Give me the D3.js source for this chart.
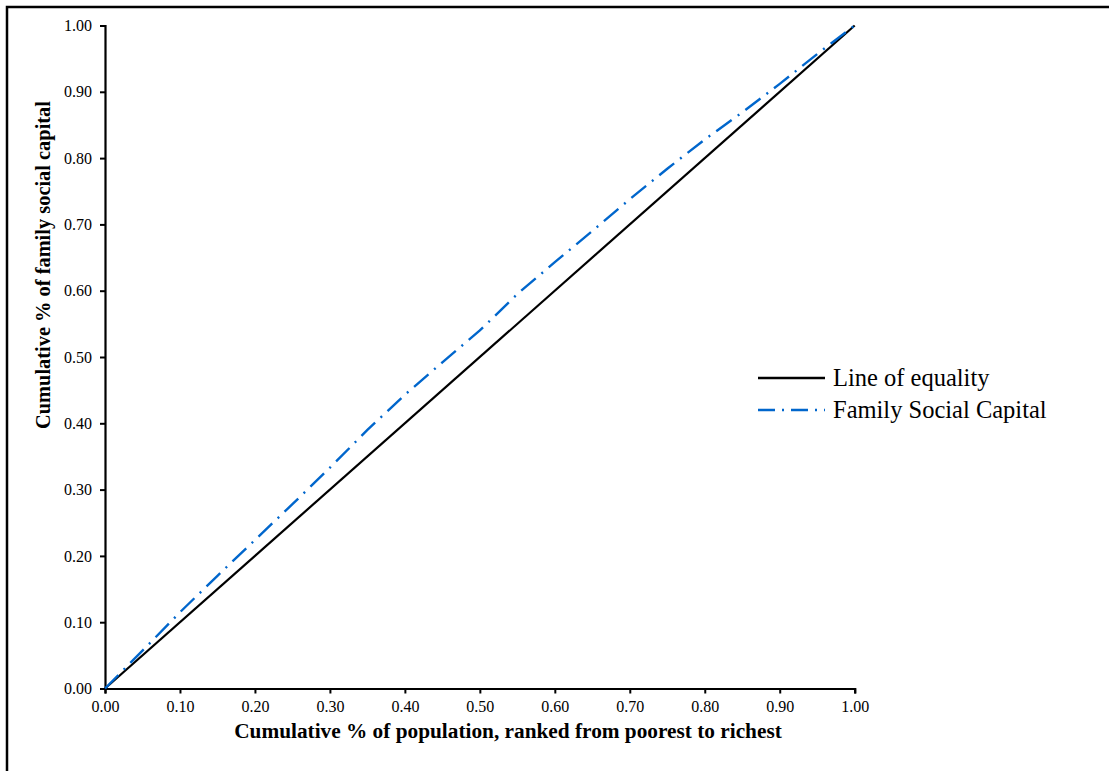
<!DOCTYPE html>
<html>
<head>
<meta charset="utf-8">
<script src="https://cdn.jsdelivr.net/npm/d3@7"></script>
<style>
  html, body { margin: 0; padding: 0; background: #fff; }
  svg { display: block; }
</style>
</head>
<body>
<svg id="chart" width="1109" height="771"></svg>
<script>
// ---- data ----
const popShare = [0, 0.05, 0.10, 0.15, 0.20, 0.25, 0.30, 0.35, 0.40, 0.45, 0.50, 0.55, 0.60, 0.65, 0.70, 0.75, 0.80, 0.85, 0.90, 0.95, 1.00];
const familyCapital = [0, 0.057, 0.115, 0.170, 0.224, 0.278, 0.333, 0.390, 0.443, 0.492, 0.540, 0.595, 0.643, 0.690, 0.738, 0.784, 0.828, 0.869, 0.912, 0.957, 1.00];
const equality = [0, 1];
const tickValues = [0, 0.1, 0.2, 0.3, 0.4, 0.5, 0.6, 0.7, 0.8, 0.9, 1.0];
const seriesNames = ["Line of equality", "Family Social Capital"];
const xTitle = "Cumulative % of population, ranked from poorest to richest";
const yTitle = "Cumulative % of family social capital";

const svg = d3.select("#chart");
const serif = "'Liberation Serif', 'Times New Roman', serif";

// outer frame (only top/left visible)
svg.append("rect").attr("x", 7).attr("y", 7).attr("width", 1200).attr("height", 900)
  .attr("fill", "none").attr("stroke", "#000").attr("stroke-width", 2.5);

const x = d3.scaleLinear().domain([0, 1]).range([105, 854.7]);
const y = d3.scaleLinear().domain([0, 1]).range([688.5, 25.5]);

const fmt = d3.format(".2f");

const gx = svg.append("g").attr("transform", `translate(0,${y(0)})`)
  .call(d3.axisBottom(x).tickValues(tickValues).tickFormat(fmt).tickSize(5).tickSizeOuter(5).tickPadding(7));
const gy = svg.append("g").attr("transform", `translate(${x(0)},0)`)
  .call(d3.axisLeft(y).tickValues(tickValues).tickFormat(fmt).tickSize(5).tickSizeOuter(5).tickPadding(8));

[gx, gy].forEach(g => {
  g.select(".domain").attr("stroke", "#000").attr("stroke-width", 2.2);
  g.selectAll(".tick line").attr("stroke", "#000").attr("stroke-width", 2);
  g.selectAll(".tick text").attr("font-family", serif).attr("font-size", 16).attr("fill", "#000");
});

const line = d3.line().x(d => x(d[0])).y(d => y(d[1]));

// equality line
svg.append("path")
  .datum(equality.map(v => [v, v]))
  .attr("d", line).attr("fill", "none").attr("stroke", "#000").attr("stroke-width", 2.2);

// family social capital
svg.append("path")
  .datum(popShare.map((p, i) => [p, familyCapital[i]]))
  .attr("d", line).attr("fill", "none").attr("stroke", "#0066CC").attr("stroke-width", 2.4)
  .attr("stroke-dasharray", "19,7.5,2,7.5");

// legend
const leg = svg.append("g");
const legStyles = [
  { color: "#000", dash: null },
  { color: "#0066CC", dash: "17,7,2,7" }
];
seriesNames.forEach((name, i) => {
  const yy = 378 + i * 32;
  leg.append("line").attr("x1", 758).attr("x2", 825).attr("y1", yy).attr("y2", yy)
    .attr("stroke", legStyles[i].color).attr("stroke-width", 2.3)
    .attr("stroke-dasharray", legStyles[i].dash);
  leg.append("text").attr("x", 833).attr("y", yy + 8).text(name)
    .attr("font-family", serif).attr("font-size", 24.5).attr("fill", "#000");
});

// axis titles
svg.append("text").attr("x", 508).attr("y", 738).attr("text-anchor", "middle")
  .attr("font-family", serif).attr("font-weight", "bold").attr("font-size", 21.3).text(xTitle);
svg.append("text").attr("transform", "translate(50,265) rotate(-90)").attr("text-anchor", "middle")
  .attr("font-family", serif).attr("font-weight", "bold").attr("font-size", 20.4).text(yTitle);
</script>
</body>
</html>
